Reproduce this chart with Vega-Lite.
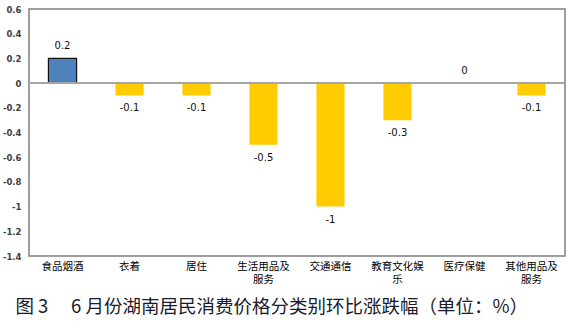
{
  "$schema": "https://vega.github.io/schema/vega-lite/v6.json",
  "width": 536,
  "height": 247,
  "autosize": {"type": "none"},
  "padding": {"left": 29, "top": 9, "right": 8, "bottom": 75},
  "background": "white",
  "config": {
    "view": {"stroke": "#7f7f7f", "strokeWidth": 1.5},
    "font": "Noto Sans CJK SC"
  },
  "title": {
    "text": "图 3　  6 月份湖南居民消费价格分类别环比涨跌幅（单位：%）",
    "orient": "bottom",
    "anchor": "start",
    "font": "Noto Sans CJK SC",
    "fontSize": 18.5,
    "fontWeight": "normal",
    "color": "#1a1a2a",
    "dx": 13,
    "offset": 13
  },
  "data": {
    "values": [
      {"cat": "食品烟酒", "v": 0.2},
      {"cat": "衣着", "v": -0.1},
      {"cat": "居住", "v": -0.1},
      {"cat": "生活用品及|服务", "v": -0.5},
      {"cat": "交通通信", "v": -1},
      {"cat": "教育文化娱|乐", "v": -0.3},
      {"cat": "医疗保健", "v": 0},
      {"cat": "其他用品及|服务", "v": -0.1}
    ]
  },
  "encoding": {
    "x": {
      "field": "cat",
      "type": "nominal",
      "sort": null,
      "scale": {"paddingInner": 0.58, "paddingOuter": 0.29},
      "axis": {
        "title": null,
        "labelAngle": 0,
        "labelExpr": "split(datum.label, '|')",
        "labelFontSize": 10.5,
        "labelColor": "#000000",
        "labelPadding": 5,
        "labelOverlap": false,
        "ticks": false,
        "domain": false,
        "labelLineHeight": 13
      }
    },
    "y": {
      "field": "v",
      "type": "quantitative",
      "scale": {"domain": [-1.4, 0.6], "nice": false, "zero": false},
      "axis": {
        "title": null,
        "values": [0.6, 0.4, 0.2, 0, -0.2, -0.4, -0.6, -0.8, -1, -1.2, -1.4],
        "labelExpr": "toString(datum.value)",
        "labelOverlap": false,
        "grid": false,
        "ticks": false,
        "domain": false,
        "labelFontSize": 8.5,
        "labelFontWeight": "bold",
        "labelColor": "#404040",
        "labelPadding": 8,
        "labelFont": "DejaVu Sans"
      }
    }
  },
  "layer": [
    {
      "mark": {"type": "bar", "strokeWidth": 1.2},
      "encoding": {
        "color": {
          "condition": {"test": "datum.v > 0", "value": "#4F81BD"},
          "value": "#FFCC00"
        },
        "stroke": {
          "condition": {"test": "datum.v > 0", "value": "#111111"},
          "value": null
        }
      }
    },
    {
      "mark": {"type": "rule", "color": "#a6a6a6", "strokeWidth": 1.5},
      "encoding": {"y": {"datum": 0, "type": "quantitative"}, "x": null}
    },
    {
      "transform": [{"filter": "datum.v >= 0"}],
      "mark": {"type": "text", "baseline": "bottom", "dy": -7, "fontSize": 10, "font": "DejaVu Sans", "color": "#111111", "text": {"expr": "toString(datum.v)"}}
    },
    {
      "transform": [{"filter": "datum.v < 0"}],
      "mark": {"type": "text", "baseline": "top", "dy": 8, "fontSize": 10, "font": "DejaVu Sans", "color": "#111111", "text": {"expr": "toString(datum.v)"}}
    }
  ]
}
